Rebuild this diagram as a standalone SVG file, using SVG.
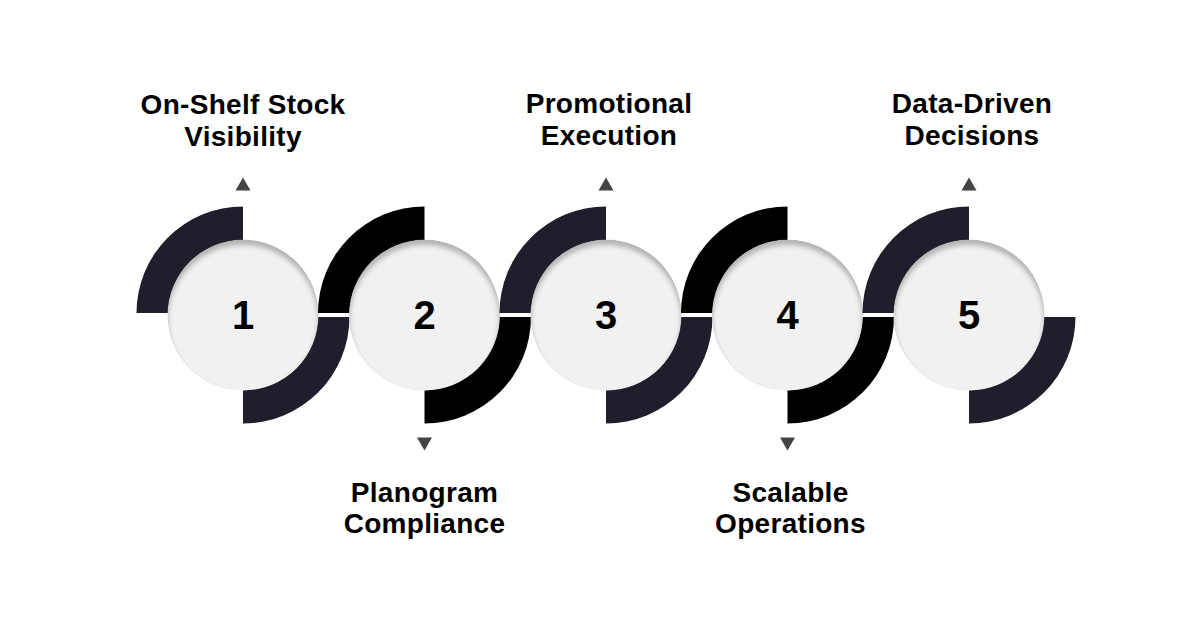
<svg xmlns="http://www.w3.org/2000/svg" width="1200" height="630" viewBox="0 0 1200 630">
<style>
.dark{fill:#201e2b}
.black{fill:#000}
.num{font-family:"Liberation Sans",Arial,sans-serif;font-weight:bold;font-size:40px;fill:#000;text-anchor:middle}
.lbl{font-family:"Liberation Sans",Arial,sans-serif;font-weight:bold;font-size:28px;letter-spacing:0.3px;fill:#000;text-anchor:middle}
.tri{fill:#444}
</style>
<defs>
<path id="ringUL" d="M -106.5,-2 A 106.5 106.5 0 0 1 0,-108.5 L 0,-74 A 72 72 0 0 0 -72,-2 Z"/>
<path id="ringLR" d="M 106.5,2 A 106.5 106.5 0 0 1 0,108.5 L 0,74 A 72 72 0 0 0 72,2 Z"/>
<clipPath id="cc"><circle cx="0" cy="0" r="75.5"/></clipPath>
<filter id="blur" x="-20%" y="-20%" width="140%" height="140%"><feGaussianBlur stdDeviation="2.5"/></filter>
<g id="disc">
<g clip-path="url(#cc)">
<circle cx="0" cy="0" r="75.5" fill="#b3b3b3"/>
<circle cx="0" cy="5" r="75" fill="#f1f1f1" filter="url(#blur)"/>
</g>
</g>
<path id="triUp" d="M -7.5,6.5 L 0,-6.5 L 7.5,6.5 Z"/>
<path id="triDown" d="M -7.5,-6.5 L 7.5,-6.5 L 0,6.5 Z"/>
</defs>
<rect width="1200" height="630" fill="#fff"/>
<g id="connectors"></g>
<g id="node1" transform="translate(243,315)">
<use href="#ringUL" class="dark"/>
<use href="#ringLR" class="dark"/>
<use href="#disc"/>
<text class="num" x="0" y="14">1</text>
<use href="#triUp" class="tri" x="0" y="-131"/>
<text class="lbl" x="0" y="-201">On-Shelf Stock</text>
<text class="lbl" x="0" y="-169">Visibility</text>
</g>
<g id="node2" transform="translate(424.5,315)">
<use href="#ringUL" class="black"/>
<use href="#ringLR" class="black"/>
<use href="#disc"/>
<text class="num" x="0" y="14">2</text>
<use href="#triDown" class="tri" x="0" y="129"/>
<text class="lbl" x="0" y="187">Planogram</text>
<text class="lbl" x="0" y="218">Compliance</text>
</g>
<g id="node3" transform="translate(606,315)">
<use href="#ringUL" class="dark"/>
<use href="#ringLR" class="dark"/>
<use href="#disc"/>
<text class="num" x="0" y="14">3</text>
<use href="#triUp" class="tri" x="0" y="-131"/>
<text class="lbl" x="3" y="-202">Promotional</text>
<text class="lbl" x="3" y="-170">Execution</text>
</g>
<g id="node4" transform="translate(787.5,315)">
<use href="#ringUL" class="black"/>
<use href="#ringLR" class="black"/>
<use href="#disc"/>
<text class="num" x="0" y="14">4</text>
<use href="#triDown" class="tri" x="0" y="129"/>
<text class="lbl" x="3" y="187">Scalable</text>
<text class="lbl" x="3" y="218">Operations</text>
</g>
<g id="node5" transform="translate(969,315)">
<use href="#ringUL" class="dark"/>
<use href="#ringLR" class="dark"/>
<use href="#disc"/>
<text class="num" x="0" y="14">5</text>
<use href="#triUp" class="tri" x="0" y="-131"/>
<text class="lbl" x="3" y="-202">Data-Driven</text>
<text class="lbl" x="3" y="-170">Decisions</text>
</g>
</svg>
